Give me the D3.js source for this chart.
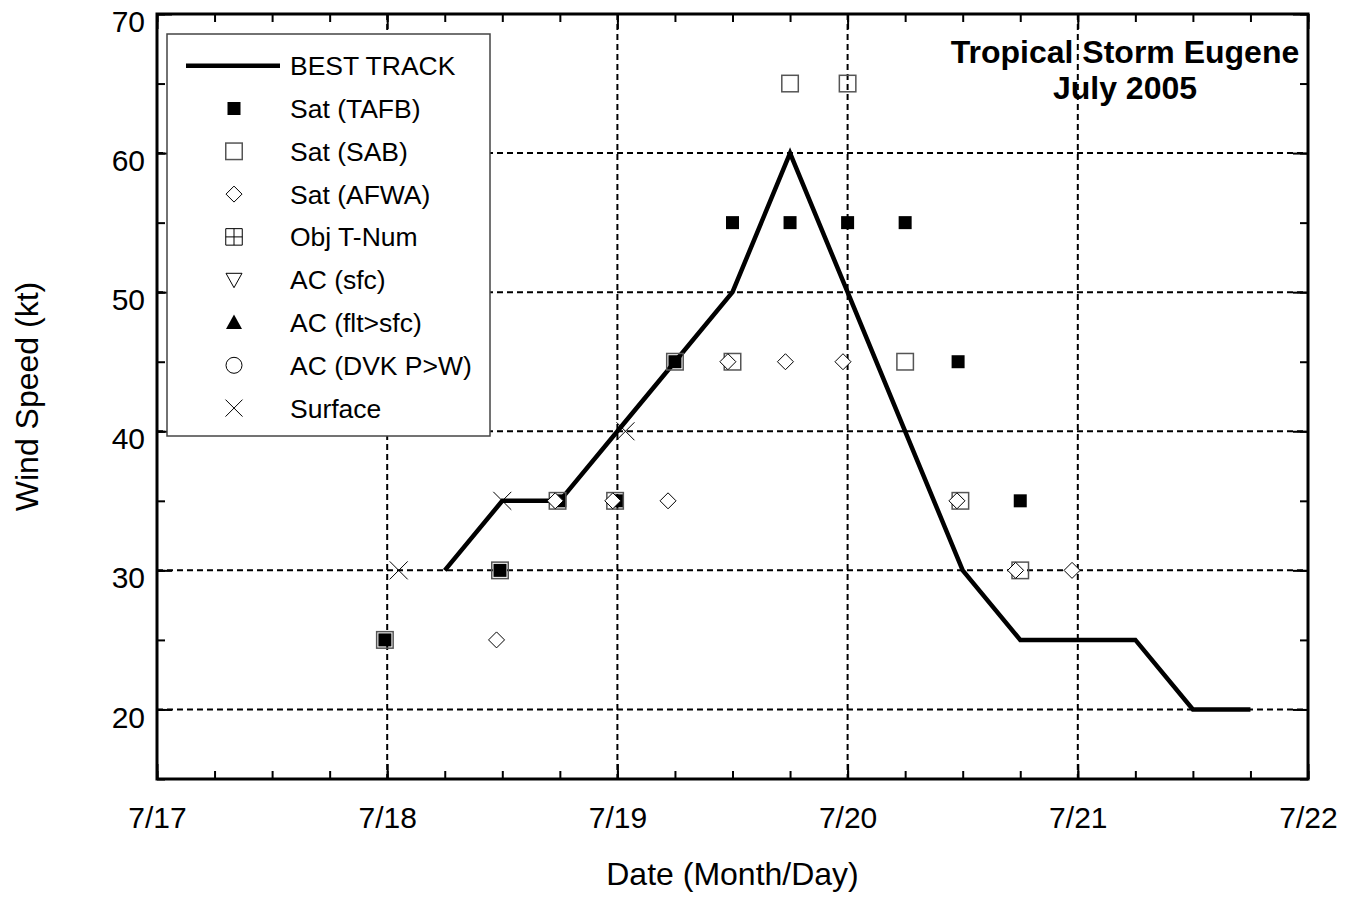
<!DOCTYPE html>
<html>
<head>
<meta charset="utf-8">
<script src="https://cdn.jsdelivr.net/npm/d3@7"></script>
<style>
  body { margin: 0; background: #fff; }
  svg { font-family: Arial, "Liberation Sans", sans-serif; }
</style>
</head>
<body>
<svg id="chart" width="1346" height="902"></svg>
<script>
// data (time = day of July, fractional)
const bestTime = [18.25, 18.5, 18.75, 19.0, 19.25, 19.5, 19.75, 20.0, 20.25, 20.5, 20.75, 21.0, 21.25, 21.5, 21.75]
const bestWind = [30, 35, 35, 40, 45, 50, 60, 50, 40, 30, 25, 25, 25, 20, 20]

const tafbTime = [17.99, 18.49, 18.75, 19.0, 19.25, 19.5, 19.75, 20.0, 20.25, 20.48, 20.75]
const tafbWind = [25, 30, 35, 35, 45, 55, 55, 55, 55, 45, 35]

const sabTime = [17.99, 18.49, 18.74, 18.99, 19.25, 19.5, 19.75, 20.0, 20.25, 20.49, 20.75]
const sabWind = [25, 30, 35, 35, 45, 45, 65, 65, 45, 35, 30]

const afwaTime = [18.475, 18.73, 18.98, 19.22, 19.48, 19.73, 19.98, 20.475, 20.73, 20.975]
const afwaWind = [25, 35, 35, 35, 45, 45, 45, 35, 30, 30]

const sfcTime = [18.05, 18.5, 19.035]
const sfcWind = [30, 35, 40]

const dayTicks = [17, 18, 19, 20, 21, 22]
const windTicks = [20, 30, 40, 50, 60, 70]
const legendLabels = ['BEST TRACK', 'Sat (TAFB)', 'Sat (SAB)', 'Sat (AFWA)', 'Obj T-Num', 'AC (sfc)', 'AC (flt>sfc)', 'AC (DVK P>W)', 'Surface']

const svg = d3.select('#chart')
const pL = 157, pR = 1308, pT = 14, pB = 779

const x = d3.scaleLinear().domain([17, 22]).range([pL, pR])
const y = d3.scaleLinear().domain([15, 70]).range([pB, pT])

const zip = (t, w) => t.map((d, i) => ({t: d, w: w[i]}))

// grid
const grid = svg.append('g')
    .attr('stroke', '#000')
    .attr('stroke-width', 2)
    .attr('stroke-dasharray', '6,4')
grid.selectAll('.vg').data(dayTicks.slice(1, -1)).enter().append('line')
    .attr('x1', d => x(d)).attr('x2', d => x(d))
    .attr('y1', pT).attr('y2', pB)
grid.selectAll('.hg').data(windTicks.slice(0, -1)).enter().append('line')
    .attr('x1', pL).attr('x2', pR)
    .attr('y1', d => y(d)).attr('y2', d => y(d))

// axes with inward ticks
const xMinor = d3.range(17, 22.001, 0.25)
const yMinor = d3.range(15, 70.001, 5)

svg.append('g')
    .attr('transform', `translate(0,${pB})`)
    .call(d3.axisBottom(x).tickValues(xMinor).tickSize(-8).tickFormat(''))
svg.append('g')
    .attr('transform', `translate(0,${pT})`)
    .call(d3.axisTop(x).tickValues(xMinor).tickSize(-8).tickFormat(''))
svg.append('g')
    .attr('transform', `translate(${pL},0)`)
    .call(d3.axisLeft(y).tickValues(yMinor).tickSize(-8).tickFormat(''))
svg.append('g')
    .attr('transform', `translate(${pR},0)`)
    .call(d3.axisRight(y).tickValues(yMinor).tickSize(-8).tickFormat(''))

const xAxis = svg.append('g')
    .attr('transform', `translate(0,${pB})`)
    .call(d3.axisBottom(x).tickValues(dayTicks).tickSize(-15).tickPadding(28).tickFormat(d => `7/${d}`))
svg.append('g')
    .attr('transform', `translate(0,${pT})`)
    .call(d3.axisTop(x).tickValues(dayTicks).tickSize(-15).tickFormat(''))
const yAxis = svg.append('g')
    .attr('transform', `translate(${pL},0)`)
    .call(d3.axisLeft(y).tickValues(windTicks).tickSize(-15).tickPadding(12))
svg.append('g')
    .attr('transform', `translate(${pR},0)`)
    .call(d3.axisRight(y).tickValues(windTicks).tickSize(-15).tickFormat(''))

svg.selectAll('.domain').remove()
svg.selectAll('.tick line').attr('stroke', '#000').attr('stroke-width', 2)
xAxis.selectAll('text').attr('font-size', 30).attr('fill', '#000')
yAxis.selectAll('text').attr('font-size', 30).attr('fill', '#000').attr('y', 8)
svg.selectAll('g').attr('font-family', null)

// frame
svg.append('rect')
    .attr('x', pL).attr('y', pT)
    .attr('width', pR - pL).attr('height', pB - pT)
    .attr('fill', 'none').attr('stroke', '#000').attr('stroke-width', 3)

// axis titles
svg.append('text')
    .attr('x', (pL + pR) / 2).attr('y', 885)
    .attr('text-anchor', 'middle').attr('font-size', 32)
    .text('Date (Month/Day)')
svg.append('text')
    .attr('transform', `translate(38,${(pT + pB) / 2}) rotate(-90)`)
    .attr('text-anchor', 'middle').attr('font-size', 32)
    .text('Wind Speed (kt)')

// chart title
const title = svg.append('text')
    .attr('text-anchor', 'middle').attr('font-size', 32).attr('font-weight', 'bold')
title.append('tspan').attr('x', 1125).attr('y', 63).text('Tropical Storm Eugene')
title.append('tspan').attr('x', 1125).attr('y', 99).text('July 2005')

// marker drawers
function filledSquare(g, s) {
    g.append('rect').attr('x', -s / 2).attr('y', -s / 2).attr('width', s).attr('height', s).attr('fill', '#000')
}
function openSquare(g, s) {
    g.append('rect').attr('x', -s / 2).attr('y', -s / 2).attr('width', s).attr('height', s)
        .attr('fill', 'none').attr('stroke', '#555').attr('stroke-width', 1.5)
}
function diamond(g, s) {
    const h = s / 2
    g.append('path').attr('d', `M0,${-h}L${h},0L0,${h}L${-h},0Z`)
        .attr('fill', '#fff').attr('stroke', '#000').attr('stroke-width', 1)
}
function gridSquare(g, s) {
    const h = s / 2
    g.append('path').attr('d', `M${-h},${-h}H${h}V${h}H${-h}Z M0,${-h}V${h} M${-h},0H${h}`)
        .attr('fill', 'none').attr('stroke', '#000').attr('stroke-width', 1)
}
function triDown(g, s) {
    const h = s / 2
    g.append('path').attr('d', `M${-h},${-h * 0.8}L${h},${-h * 0.8}L0,${h}Z`)
        .attr('fill', 'none').attr('stroke', '#000').attr('stroke-width', 1)
}
function triUp(g, s) {
    const h = s / 2
    g.append('path').attr('d', `M${-h},${h * 0.8}L${h},${h * 0.8}L0,${-h}Z`).attr('fill', '#000')
}
function circle(g, s) {
    g.append('circle').attr('r', s / 2).attr('fill', 'none').attr('stroke', '#000').attr('stroke-width', 1)
}
function cross(g, s) {
    const h = s / 2
    g.append('path').attr('d', `M${-h},${-h}L${h},${h}M${-h},${h}L${h},${-h}`)
        .attr('stroke', '#000').attr('stroke-width', 1)
}

// best track
const line = d3.line().x(d => x(d.t)).y(d => y(d.w))
svg.append('path')
    .datum(zip(bestTime, bestWind))
    .attr('d', line)
    .attr('fill', 'none').attr('stroke', '#000').attr('stroke-width', 4.5)
    .attr('stroke-linejoin', 'miter')

function drawSeries(data, fn, s) {
    const g = svg.append('g')
    data.forEach(d => {
        fn(g.append('g').attr('transform', `translate(${x(d.t)},${y(d.w)})`), s)
    })
}
drawSeries(zip(tafbTime, tafbWind), filledSquare, 13)
drawSeries(zip(sabTime, sabWind), openSquare, 16.5)
drawSeries(zip(afwaTime, afwaWind), diamond, 16)
drawSeries(zip(sfcTime, sfcWind), cross, 18)

// legend
const lg = svg.append('g')
lg.append('rect')
    .attr('x', 167).attr('y', 34).attr('width', 323).attr('height', 402)
    .attr('fill', '#fff').attr('stroke', '#444').attr('stroke-width', 1.5)
const legendMarks = [null, filledSquare, openSquare, diamond, gridSquare, triDown, triUp, circle, cross]
const legendSizes = [0, 13, 16.5, 16, 16.5, 16, 16, 16, 17]
legendLabels.forEach((label, i) => {
    const cy = 65.7 + i * 42.8
    if (i === 0) {
        lg.append('line').attr('x1', 186).attr('x2', 280).attr('y1', cy).attr('y2', cy)
            .attr('stroke', '#000').attr('stroke-width', 4.5)
    } else {
        legendMarks[i](lg.append('g').attr('transform', `translate(234,${cy})`), legendSizes[i])
    }
    lg.append('text').attr('x', 290).attr('y', cy).attr('dy', '0.36em')
        .attr('font-size', 26.5).text(label)
})
</script>
</body>
</html>
